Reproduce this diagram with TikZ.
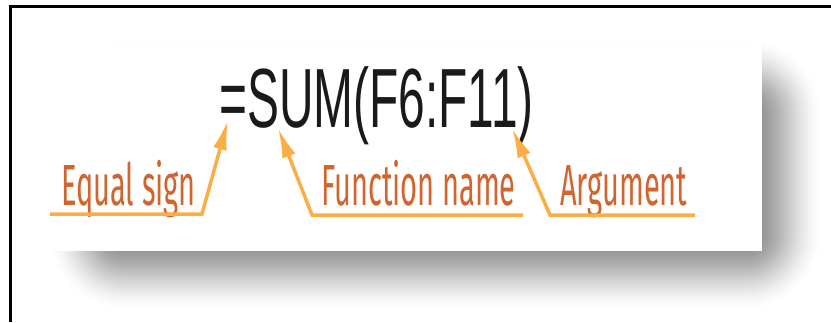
\documentclass[tikz,border=0pt]{standalone}
\usepackage{fontspec}
\usepackage{graphicx}
\usetikzlibrary{arrows.meta}
\newfontfamily\formulafont{Liberation Sans}
\newfontfamily\labelfont{Fira Sans}
\definecolor{formulacol}{HTML}{1A1A1A}
\definecolor{labelcol}{HTML}{D2642E}
\definecolor{arrowcol}{HTML}{FBAE45}
\tikzset{
  labeltext/.style={anchor=base west, inner sep=0pt, text=labelcol},
  pointer/.style={draw=arrowcol, line width=3.5pt, line join=miter, -{Latex[length=30pt,width=14pt]}},
  framestroke/.style={draw=black, line width=3pt},
}
\newcommand{\labtxt}[1]{\scalebox{0.5}[1]{\labelfont\fontsize{58}{58}\selectfont #1}}
\begin{document}
\begin{tikzpicture}[x=1pt,y=-1pt]
\useasboundingbox (0,0) rectangle (831,322);
\fill[white] (0,0) rectangle (831,322);
% blurred shadow (layers spaced by an inverse smoothstep)
\foreach \i in {1,...,59}{
  \pgfmathsetmacro\t{\i/60}
  \pgfmathsetmacro\x{0.5-sin(asin(1-2*\t)/3)}
  \pgfmathsetmacro\r{40*(2*\x-1)}
  \pgfmathsetmacro\rc{max(40+\r,0.1)}
  \fill[black, fill opacity=0.0075, rounded corners=\rc pt] (84,74) ++(-\r,-\r) rectangle (786+\r,274+\r);
}
% panel
\fill[white] (46,42) rectangle (762,251);
% frame
\draw[framestroke] (10.5,322) -- (10.5,6) -- (831,6);
% formula
\node[anchor=base west, inner sep=0pt, text=formulacol] (formula) at (219,127)
  {\scalebox{0.57}[1]{\formulafont\fontsize{84}{84}\selectfont =SUM(F6:F11)}};
% labels
\node[labeltext] (eq) at (61,205) {\labtxt{Equal sign}};
\node[labeltext] (fn) at (321,205) {\labtxt{Function name}};
\node[labeltext] (arg) at (560,205) {\labtxt{Argument}};
% pointer coordinates
\coordinate (eqL) at (50,214);
\coordinate (eqR) at (202,214);
\coordinate (eqTip) at (228,120);
\coordinate (fnR) at (523,215);
\coordinate (fnL) at (312,215);
\coordinate (fnTip) at (278,128);
\coordinate (argR) at (695,215);
\coordinate (argL) at (550,215);
\coordinate (argTip) at (512,128);
\draw[pointer] (eqL) -- (eqR) -- (eqTip);
\draw[pointer] (fnR) -- (fnL) -- (fnTip);
\draw[pointer] (argR) -- (argL) -- (argTip);
\end{tikzpicture}
\end{document}
